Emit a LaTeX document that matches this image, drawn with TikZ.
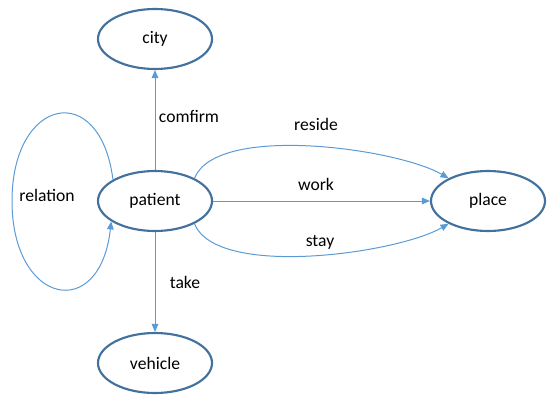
\documentclass[tikz,border=0pt]{standalone}
\usepackage{fontspec}
\setmainfont{Carlito}
\usetikzlibrary{shapes.geometric,arrows.meta}
\definecolor{ringblue}{HTML}{41719C}
\definecolor{linkblue}{HTML}{5B9BD5}
\begin{document}
\begin{tikzpicture}[x=0.75pt, y=0.75pt,
        entity/.style={draw=ringblue, line width=1.6pt, ellipse, fill=white,
            minimum width=85.5pt, minimum height=45pt, inner sep=0pt},
        rel/.style={draw=linkblue, line width=0.75pt,
            -{Triangle[length=6pt, width=5pt]}},
        lbl/.style={inner sep=1pt}]
        \useasboundingbox (0,0) rectangle (555,404);
        \fontsize{13.2}{16}\selectfont

        % entities
        \node[entity] (city) at (155,365) {city};
        \node[entity] (patient) at (155,203) {patient};
        \node[entity] (vehicle) at (155,41) {vehicle};
        \node[entity] (place) at (488,203) {place};

        % relations
        \coordinate (loopleft) at (12,203);
        \draw[rel] (patient.153) .. controls (100,325) and (12,307) .. (loopleft)
            .. controls (12,99) and (100,81) .. (patient.205);
        \draw[rel] (patient) -- (city);
        \draw[rel] (patient) -- (vehicle);
        \draw[rel] (patient.east) -- (place.west);
        \draw[rel] (patient.30) to[out=68, in=150, looseness=0.6] (place.150);
        \draw[rel] (patient.-30) to[out=-68, in=-150, looseness=0.6] (place.-150);

        % labels
        \node[lbl] (relationlbl) at (47,209) {relation};
        \node[lbl] (comfirmlbl) at (189,288) {comfirm};
        \node[lbl] (takelbl) at (185,122) {take};
        \node[lbl] (residelbl) at (316,280) {reside};
        \node[lbl] (worklbl) at (316,220) {work};
        \node[lbl] (staylbl) at (320,162) {stay};
    \end{tikzpicture}
\end{document}
